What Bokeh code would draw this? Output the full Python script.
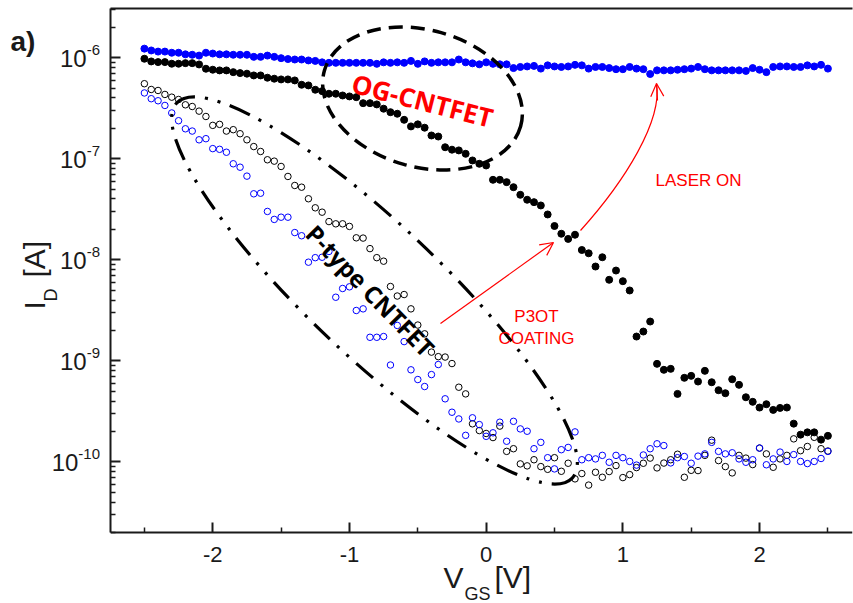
import math
import numpy as np
from bokeh.plotting import figure
from bokeh.layouts import row
from bokeh.models import (Range1d, LinearAxis, FixedTicker, Label, Arrow, OpenHead,
                          ColumnDataSource, CustomJSTickFormatter)
from bokeh.core.properties import value
from bokeh.embed import file_html
from bokeh.resources import INLINE

# ---------------- data ----------------
VGS = np.linspace(-2.5, 2.5, 101)   # gate-voltage sweep, 50 mV step

# OG-CNTFET, laser on (blue filled)
blue_on = [1.23e-6, 1.18e-6, 1.15e-6, 1.15e-6, 1.12e-6, 1.12e-6, 1.08e-6, 1.07e-6, 1.05e-6, 1.12e-6,
           1.10e-6, 1.08e-6, 1.08e-6, 1.07e-6, 1.07e-6, 1.07e-6, 1.02e-6, 1.02e-6, 1.05e-6, 1.02e-6,
           0.99e-6, 0.97e-6, 0.96e-6, 0.96e-6, 0.94e-6, 0.93e-6, 0.90e-6, 0.89e-6, 0.89e-6, 0.89e-6,
           0.89e-6, 0.89e-6, 0.89e-6, 0.89e-6, 0.87e-6, 0.90e-6, 0.89e-6, 0.90e-6, 0.89e-6, 0.93e-6,
           0.87e-6, 0.92e-6, 0.89e-6, 0.90e-6, 0.90e-6, 0.90e-6, 0.96e-6, 0.90e-6, 0.88e-6, 0.86e-6,
           0.90e-6, 0.87e-6, 0.86e-6, 0.86e-6, 0.79e-6, 0.81e-6, 0.82e-6, 0.83e-6, 0.78e-6, 0.84e-6,
           0.82e-6, 0.81e-6, 0.82e-6, 0.85e-6, 0.84e-6, 0.78e-6, 0.81e-6, 0.81e-6, 0.79e-6, 0.77e-6,
           0.77e-6, 0.81e-6, 0.78e-6, 0.77e-6, 0.69e-6, 0.75e-6, 0.75e-6, 0.75e-6, 0.76e-6, 0.77e-6,
           0.78e-6, 0.81e-6, 0.77e-6, 0.75e-6, 0.75e-6, 0.75e-6, 0.75e-6, 0.75e-6, 0.74e-6, 0.79e-6,
           0.76e-6, 0.72e-6, 0.81e-6, 0.82e-6, 0.82e-6, 0.81e-6, 0.81e-6, 0.84e-6, 0.82e-6, 0.85e-6,
           0.78e-6]

# OG-CNTFET, dark (black filled)
black_on = [9.77e-7, 9.19e-7, 9.05e-7, 9.05e-7, 8.72e-7, 8.72e-7, 8.84e-7, 8.84e-7, 8.58e-7, 7.78e-7,
            7.61e-7, 7.49e-7, 7.49e-7, 7.20e-7, 7.04e-7, 6.95e-7, 6.68e-7, 6.68e-7, 6.34e-7, 6.20e-7,
            6.10e-7, 6.10e-7, 5.96e-7, 5.40e-7, 5.32e-7, 4.82e-7, 4.67e-7, 4.40e-7, 4.40e-7, 4.23e-7,
            4.14e-7, 4.07e-7, 3.55e-7, 3.55e-7, 3.45e-7, 3.13e-7, 2.89e-7, 2.79e-7, 2.43e-7, 2.09e-7,
            2.19e-7, 2.03e-7, 1.70e-7, 1.66e-7, 1.30e-7, 1.23e-7, 1.21e-7, 1.12e-7, 9.62e-8, 8.92e-8,
            8.58e-8, 6.19e-8, 6.19e-8, 5.87e-8, 5.23e-8, 4.40e-8, 3.93e-8, 3.72e-8, 3.45e-8, 2.81e-8,
            2.16e-8, 1.81e-8, 1.61e-8, 1.77e-8, 1.25e-8, 1.16e-8, 8.58e-9, 1.06e-8, 6.34e-9, 7.83e-9,
            6.14e-9, 4.97e-9, 1.74e-9, 1.95e-9, 2.45e-9, 9.34e-10, 8.15e-10, 8.33e-10, 4.71e-10, 6.79e-10,
            7.10e-10, 6.24e-10, 7.96e-10, 6.14e-10, 5.12e-10, 4.78e-10, 6.57e-10, 5.79e-10, 4.36e-10, 3.93e-10,
            3.45e-10, 3.72e-10, 3.27e-10, 3.42e-10, 3.45e-10, 2.39e-10, 1.86e-10, 1.96e-10, 1.96e-10, 1.66e-10,
            1.81e-10]

# p-type CNTFET (black open)
black_off = [5.53e-7, 4.85e-7, 4.74e-7, 4.33e-7, 4.07e-7, 3.86e-7, 3.42e-7, 3.29e-7, 2.96e-7, 2.62e-7,
             2.14e-7, 2.19e-7, 1.88e-7, 1.94e-7, 1.77e-7, 1.54e-7, 1.32e-7, 1.18e-7, 9.77e-8, 9.47e-8,
             8.39e-8, 6.68e-8, 5.44e-8, 5.23e-8, 4.02e-8, 3.27e-8, 2.96e-8, 2.39e-8, 2.27e-8, 2.27e-8,
             2.14e-8, 1.65e-8, 1.64e-8, 1.29e-8, 1.05e-8, 9.69e-9, 5.44e-9, 4.38e-9, 4.53e-9, 3.27e-9,
             2.26e-9, 1.85e-9, 1.22e-9, 1.10e-9, 1.09e-9, 9.40e-10, 5.48e-10, 4.71e-10, 2.38e-10, 2.04e-10,
             1.91e-10, 1.74e-10, 2.26e-10, 1.27e-10, 1.35e-10, 9.55e-11, 9.13e-11, 1.05e-10, 8.98e-11, 8.44e-11,
             1.10e-10, 8.07e-11, 9.69e-11, 6.79e-11, 7.66e-11, 5.89e-11, 7.89e-11, 7.04e-11, 8.02e-11, 9.19e-11,
             6.99e-11, 7.48e-11, 8.78e-11, 9.69e-11, 1.09e-10, 8.72e-11, 9.73e-11, 1.05e-10, 1.19e-10, 7.04e-11,
             8.25e-11, 8.20e-11, 1.16e-10, 1.64e-10, 1.03e-10, 8.98e-11, 7.78e-11, 1.16e-10, 1.09e-10, 9.40e-11,
             1.37e-10, 1.20e-10, 8.84e-11, 1.07e-10, 1.16e-10, 1.69e-10, 1.29e-10, 1.42e-10, 1.75e-10, 1.35e-10,
             1.28e-10]

# p-type CNTFET, second sweep (blue open)
blue_off = [4.48e-7, 3.93e-7, 3.75e-7, 3.37e-7, 2.84e-7, 2.38e-7, 1.98e-7, 1.88e-7, 1.54e-7, 1.58e-7,
            1.26e-7, 1.24e-7, 1.16e-7, 8.92e-8, 8.25e-8, 6.73e-8, 4.50e-8, 4.56e-8, 3.01e-8, 2.51e-8,
            2.64e-8, 2.64e-8, 1.86e-8, 1.73e-8, 9.47e-9, 1.05e-8, 1.06e-8, 1.21e-8, 4.26e-9, 5.20e-9,
            5.40e-9, 3.15e-9, 3.27e-9, 1.71e-9, 1.71e-9, 1.74e-9, 9.09e-10, 2.24e-9, 1.55e-9, 8.15e-10,
            6.53e-10, 5.57e-10, 7.31e-10, 9.19e-10, 4.21e-10, 3.10e-10, 2.66e-10, 1.83e-10, 2.73e-10, 2.34e-10,
            1.79e-10, 1.94e-10, 2.47e-10, 1.60e-10, 2.52e-10, 2.12e-10, 2.01e-10, 1.35e-10, 1.56e-10, 1.10e-10,
            8.52e-11, 1.32e-10, 1.39e-10, 1.98e-10, 1.05e-10, 1.10e-10, 1.07e-10, 1.16e-10, 9.91e-11, 1.16e-10,
            1.10e-10, 1.01e-10, 9.29e-11, 1.17e-10, 1.35e-10, 1.51e-10, 1.45e-10, 9.77e-11, 1.10e-10, 1.13e-10,
            9.69e-11, 1.14e-10, 1.20e-10, 1.56e-10, 1.27e-10, 1.20e-10, 1.23e-10, 1.07e-10, 9.91e-11, 1.05e-10,
            1.37e-10, 9.36e-11, 1.07e-10, 1.25e-10, 1.01e-10, 1.18e-10, 1.01e-10, 9.62e-11, 1.01e-10, 1.08e-10,
            1.27e-10]

x_major = [-2, -1, 0, 1, 2]
x_minor = [-2.5, -1.5, -0.5, 0.5, 1.5, 2.5]
y_major = [1e-10, 1e-9, 1e-8, 1e-7, 1e-6]
y_exps = ["-10", "-9", "-8", "-7", "-6"]
X_LO, X_HI = -2.748, 2.680
Y_LO, Y_HI = 2.0e-11, 3.07e-6          # drawn extent of the y axis

# ---------------- layout constants ----------------
AX = "#1a1a1a"
FONT = "Liberation Sans"
W, H = 853, 603
LEFT_W = 100          # strip holding y tick labels, y title and panel tag
PAD_L = 10
TOP = 8
FRAME_L = LEFT_W + PAD_L
FRAME_W = 742
MAIN_W = W - LEFT_W
PX_PER_DEC = 524 / (math.log10(Y_HI) - math.log10(Y_LO))
y_bottom = 10 ** (math.log10(Y_HI) - (H - TOP) / PX_PER_DEC)


def xpx(px):
    """page pixel -> data x (for placing annotations)"""
    return X_LO + (px - FRAME_L) * (X_HI - X_LO) / FRAME_W


def ypx(py):
    """page pixel -> data y (for placing annotations)"""
    return 10 ** (math.log10(Y_HI) - (py - TOP) / PX_PER_DEC)


x_rng = Range1d(X_LO, X_HI)
y_rng = Range1d(y_bottom, Y_HI)

# ---------------- main plot ----------------
p = figure(width=MAIN_W, height=H, y_axis_type="log", x_range=x_rng, y_range=y_rng,
           output_backend="svg", toolbar_location=None,
           min_border_left=PAD_L, min_border_right=MAIN_W - PAD_L - FRAME_W,
           min_border_top=TOP, min_border_bottom=0)
p.grid.visible = False
p.outline_line_color = None

y_minor = [m * 10.0 ** e for e in range(-11, -5) for m in range(2, 10)]
xax, yax = p.xaxis[0], p.yaxis[0]
xax.ticker = FixedTicker(ticks=x_major, minor_ticks=x_minor)
yax.ticker = FixedTicker(ticks=y_major, minor_ticks=y_minor)
xax.fixed_location = Y_LO
yax.bounds = (Y_LO, Y_HI)

for ax in (xax, yax):
    ax.axis_line_width = 2
    ax.axis_line_color = AX
    ax.major_tick_in = 10
    ax.major_tick_out = 0
    ax.minor_tick_in = 5
    ax.minor_tick_out = 0
    ax.major_tick_line_width = 2
    ax.minor_tick_line_width = 1.5
    ax.major_tick_line_color = AX
    ax.minor_tick_line_color = AX

xax.formatter = CustomJSTickFormatter(code="return tick.toFixed(0);")
xax.major_label_text_font = FONT
xax.major_label_text_font_size = "22px"
xax.major_label_text_color = AX
xax.major_label_standoff = 14

# y tick labels are drawn (with real superscripts) in the left strip
yax.major_label_text_font_size = "1px"
yax.major_label_text_color = None
yax.major_label_standoff = 0

top = LinearAxis(ticker=FixedTicker(ticks=[]), axis_line_width=2, axis_line_color=AX,
                 major_label_text_font_size="1px", major_label_text_color=None,
                 major_tick_in=0, major_tick_out=0,
                 minor_tick_in=0, minor_tick_out=0, major_label_standoff=0)
p.add_layout(top, "above")

# data marks
p.scatter(VGS, black_off, marker="circle", size=6.5, fill_color=None,
          line_color="black", line_width=1)
p.scatter(VGS, blue_off, marker="circle", size=6.5, fill_color=None,
          line_color="#0000ff", line_width=1)
p.scatter(VGS, black_on, marker="circle", size=7, fill_color="black", line_color="black")
p.scatter(VGS, blue_on, marker="circle", size=7, fill_color="#0000ff", line_color="#0000ff")

# annotations inside the plot (placed by page pixel)
p.ellipse(x=[xpx(422)], y=[ypx(98)], width=204, height=137, angle=-0.276,
          width_units="screen", height_units="screen",
          fill_color=None, line_color="black", line_width=3.5, line_dash="14 8")
p.ellipse(x=[xpx(374)], y=[ypx(290)], width=545, height=132, angle=-0.759,
          width_units="screen", height_units="screen",
          fill_color=None, line_color="black", line_width=3.2, line_dash="22 10 3 10 3 10")

p.add_layout(Label(x=xpx(422), y=ypx(100), text="OG-CNTFET", angle=-0.25,
                   text_align="center", text_baseline="middle", text_font="Open Sans",
                   text_font_style="bold", text_font_size="26px", text_color="#ff0000"))
p.add_layout(Label(x=xpx(370), y=ypx(290), text="P-type CNTFET", angle=-0.80,
                   text_align="center", text_baseline="middle", text_font="Open Sans",
                   text_font_style="bold", text_font_size="24px", text_color="black"))

head = dict(size=13, line_color="red", line_width=1.2)
p.add_layout(Arrow(end=OpenHead(**head), x_start=xpx(440), y_start=ypx(323),
                   x_end=xpx(553), y_end=ypx(242), line_color="red", line_width=1.2))
p.bezier(x0=[xpx(580)], y0=[ypx(230)], x1=[xpx(656)], y1=[ypx(83)],
         cx0=[xpx(625)], cy0=[ypx(180)], cx1=[xpx(662)], cy1=[ypx(120)],
         line_color="red", line_width=1.2)
p.add_layout(Arrow(end=OpenHead(**head), x_start=xpx(657), y_start=ypx(100),
                   x_end=xpx(656), y_end=ypx(83), line_color="red", line_width=1.2))

red_txt = dict(text_font=FONT, text_font_size="17px", text_color="#ff0000",
               text_baseline="middle")
p.add_layout(Label(x=xpx(655), y=ypx(179.5), text="LASER ON", text_align="left", **red_txt))
p.add_layout(Label(x=xpx(536), y=ypx(316), text="P3OT", text_align="center", **red_txt))
p.add_layout(Label(x=xpx(536), y=ypx(337.5), text="COATING", text_align="center", **red_txt))

# x title with subscript (below the axis line, inside the frame)
lab = dict(text_font=FONT, text_color=AX, text_baseline="middle", text_align="left")
p.add_layout(Label(x=xpx(443), y=ypx(576.5), text="V", text_font_size="30px", **lab))
p.add_layout(Label(x=xpx(464), y=ypx(593.5), text="GS", text_font_size="18px", **lab))
p.add_layout(Label(x=xpx(494), y=ypx(576.5), text="[V]", text_font_size="30px", **lab))

# ---------------- left strip: y tick labels, y title, panel tag ----------------
left = figure(width=LEFT_W, height=H, x_range=Range1d(0, LEFT_W), y_range=y_rng,
              y_axis_type="log", x_axis_location=None, y_axis_location=None,
              output_backend="svg", toolbar_location=None,
              min_border_left=0, min_border_right=0, min_border_top=TOP,
              min_border_bottom=0)
left.grid.visible = False
left.outline_line_color = None

SUP_PX, BASE_PX = 15, 24
sup_w = [SUP_PX * (0.333 + 0.556 * (len(e) - 1)) for e in y_exps]
ysrc = ColumnDataSource(dict(y=y_major, exp=y_exps, ten=["10"] * len(y_major),
                             xo=[-w for w in sup_w]))
XR = LEFT_W - 0.5
left.text(x=XR, y="y", text="exp", source=ysrc, text_align="right", text_baseline="middle",
          y_offset=-8, text_font=value(FONT), text_font_size=f"{SUP_PX}px", text_color=AX)
left.text(x=XR, y="y", text="ten", source=ysrc, x_offset="xo", text_align="right",
          text_baseline="middle", y_offset=0.5, text_font=value(FONT),
          text_font_size=f"{BASE_PX}px", text_color=AX)

left.add_layout(Label(x=10, y=ypx(41), text="a)", text_font=FONT, text_font_style="bold",
                      text_font_size="28px", text_color=AX, text_baseline="middle"))
left.add_layout(Label(x=33.5, y=ypx(309), text="I", angle=math.pi / 2,
                      text_font_size="30px", **lab))
left.add_layout(Label(x=50, y=ypx(301), text="D", angle=math.pi / 2,
                      text_font_size="18px", **lab))
left.add_layout(Label(x=33.5, y=ypx(277), text="[A]", angle=math.pi / 2,
                      text_font_size="30px", **lab))

layout = row(left, p)
open("out.html", "w").write(file_html(layout, INLINE, title="I-V"))
